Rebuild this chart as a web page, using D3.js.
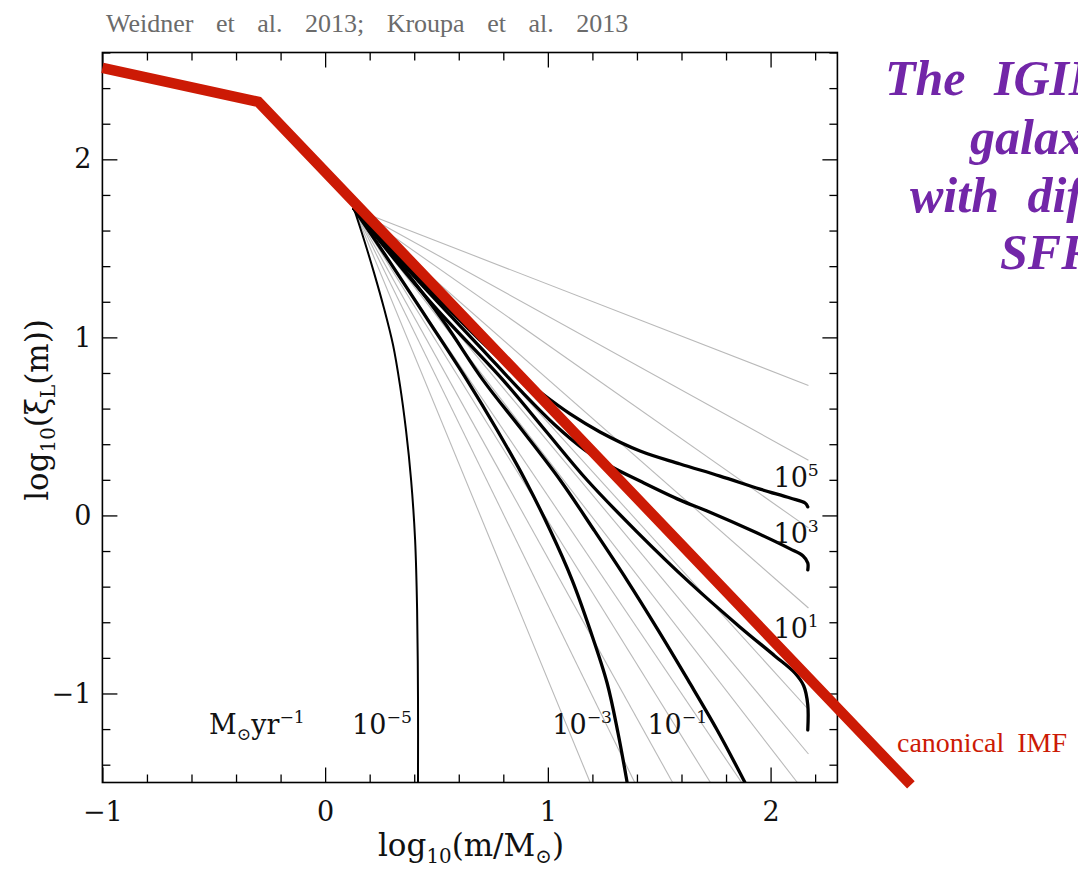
<!DOCTYPE html>
<html><head><meta charset="utf-8">
<script src="https://cdn.jsdelivr.net/npm/d3@7"></script>
<style>body{margin:0;background:#fff;overflow:hidden}svg{display:block}</style>
</head><body>
<svg id="chart" width="1078" height="872"></svg>
<script>
// ---------------- data (log10 m, log10 xi_L) ----------------
const xMajorTicks = [-1, 0, 1, 2];
const yMajorTicks = [-1, 0, 1, 2];
const canonicalIMF = [[-1, 2.514], [-0.3, 2.323], [2.63, -1.514]];
const fanOrigin = [0.13, 1.721];
const grayLineEnds = [
  [2.17, 0.73], [2.17, 0.31], [2.17, -0.07], [2.17, -0.52], [2.17, -1.09],
  [2.17, -1.34], [2.12, -1.5], [1.87, -1.5], [1.73, -1.5], [1.56, -1.5],
  [1.39, -1.5], [1.19, -1.5]
];
const igimf_1em5 = [[0.130,1.721],[0.175,1.547],[0.220,1.361],[0.264,1.165],[0.305,0.957],[0.336,0.732],[0.363,0.480],[0.386,0.199],[0.404,-0.138],[0.413,-0.531],[0.417,-1.037],[0.417,-1.5]];
const igimf_1em3 = [[0.130,1.721],[0.291,1.423],[0.462,1.097],[0.637,0.760],[0.772,0.480],[0.898,0.199],[1.010,-0.082],[1.109,-0.363],[1.190,-0.644],[1.266,-0.941],[1.315,-1.222],[1.356,-1.5]];
const igimf_1em1 = [[0.130,1.721],[0.336,1.412],[0.534,1.086],[0.709,0.760],[0.884,0.480],[1.055,0.199],[1.207,-0.082],[1.355,-0.363],[1.495,-0.644],[1.629,-0.924],[1.760,-1.205],[1.885,-1.5]];
const igimf_1e1 = [[0.130,1.721],[0.471,1.201],[0.799,0.760],[0.987,0.480],[1.176,0.199],[1.400,-0.092],[1.638,-0.379],[1.862,-0.626],[2.019,-0.789],[2.109,-0.885],[2.149,-0.958],[2.167,-1.064],[2.167,-1.205]];
const igimf_1e3 = [[0.130,1.721],[0.426,1.306],[0.695,0.947],[0.875,0.705],[1.032,0.508],[1.167,0.367],[1.288,0.272],[1.414,0.193],[1.594,0.086],[1.715,0.025],[1.940,-0.099],[2.088,-0.188],[2.146,-0.228],[2.167,-0.267],[2.167,-0.306]];
const igimf_1e5 = [[0.130,1.721],[0.426,1.323],[0.695,0.985],[0.830,0.828],[0.965,0.693],[1.100,0.570],[1.234,0.469],[1.414,0.362],[1.594,0.289],[1.773,0.221],[1.953,0.148],[2.088,0.098],[2.155,0.070],[2.167,0.048]];
const curveLabelTexts = [["10","5"],["10","3"],["10","1"],["10","−1"],["10","−3"],["10","−5"]];

// ---------------- layout ----------------
const svg = d3.select("#chart");
const x = d3.scaleLinear().domain([-1, 2.3]).range([102.4, 837.4]);
const y = d3.scaleLinear().domain([-1.5, 2.6]).range([782.5, 52.5]);
const serif = "'DejaVu Serif', serif";
const times = "'Liberation Serif', 'Times New Roman', serif";

const minorX = d3.range(-1, 2.31, 0.2).map(v => +v.toFixed(2)).filter(v => !xMajorTicks.includes(Math.round(v*100)/100));
const minorY = d3.range(-1.4, 2.61, 0.2).map(v => +v.toFixed(2)).filter(v => !yMajorTicks.includes(Math.round(v*100)/100));

svg.append("defs").append("clipPath").attr("id","frameClip").append("rect")
  .attr("x", x(-1)).attr("y", y(2.6)).attr("width", x(2.3)-x(-1)).attr("height", y(-1.5)-y(2.6));

const line = d3.line().x(d => x(d[0])).y(d => y(d[1]));
const smooth = d3.line().x(d => x(d[0])).y(d => y(d[1])).curve(d3.curveCatmullRom.alpha(0.5));

const curvesG = svg.append("g").attr("clip-path","url(#frameClip)");
curvesG.selectAll(".gray").data(grayLineEnds).join("path")
  .attr("d", d => line([fanOrigin, d]))
  .attr("fill","none").attr("stroke","#b9b9b9").attr("stroke-width",1.1);

const curves = [igimf_1em5, igimf_1em3, igimf_1em1, igimf_1e1, igimf_1e3, igimf_1e5];
curvesG.selectAll(".igimf").data(curves).join("path")
  .attr("d", d => smooth(d))
  .attr("fill","none").attr("stroke","#000")
  .attr("stroke-width",(d,i) => i === 0 ? 2 : 3.3)
  .attr("stroke-linecap","round").attr("stroke-linejoin","round");

function axisPair(gen, scale, minor, major, transform, labels, pad){
  const gMinor = svg.append("g").attr("transform", transform)
    .call(gen(scale).tickValues(minor).tickSize(-8).tickSizeOuter(0).tickFormat(""));
  const gMajor = svg.append("g").attr("transform", transform)
    .call(gen(scale).tickValues(major).tickSize(-15).tickSizeOuter(0).tickPadding(pad)
      .tickFormat(labels ? d3.format("d") : ""));
  [gMinor, gMajor].forEach(g => {
    g.select(".domain").remove();
    g.selectAll("line").attr("stroke","#000").attr("stroke-width",1.3);
    g.selectAll("text").attr("font-family", serif).attr("font-size", 27).attr("fill","#111");
  });
}
axisPair(d3.axisBottom, x, minorX, xMajorTicks, `translate(0,${y(-1.5)})`, true, 19);
axisPair(d3.axisTop, x, minorX, xMajorTicks, `translate(0,${y(2.6)})`, false, 3);
axisPair(d3.axisLeft, y, minorY, yMajorTicks, `translate(${x(-1)},0)`, true, 11);
axisPair(d3.axisRight, y, minorY, yMajorTicks, `translate(${x(2.3)},0)`, false, 3);

svg.append("rect").attr("x", x(-1)).attr("y", y(2.6))
  .attr("width", x(2.3)-x(-1)).attr("height", y(-1.5)-y(2.6))
  .attr("fill","none").attr("stroke","#000").attr("stroke-width",1.6);

svg.append("path").attr("d", line(canonicalIMF))
  .attr("fill","none").attr("stroke","#cc1a05").attr("stroke-width",10.5)
  .attr("stroke-linejoin","miter").attr("stroke-linecap","butt");

function rich(parent, parts, px, py, size, anchor){
  const t = parent.append("text").attr("x", px).attr("y", py)
    .attr("font-family", serif).attr("font-size", size)
    .attr("fill", "#111").attr("text-anchor", anchor || "start");
  let shift = 0;
  parts.forEach(([s, mode]) => {
    const target = mode === 1 ? -0.42*size : mode === -1 ? 0.22*size : 0;
    t.append("tspan").text(s).attr("dy", target - shift)
      .attr("font-size", mode ? size*0.64 : size);
    shift = target;
  });
  return t;
}

const labelAnchors = [[2.013,0.16],[2.013,-0.154],[2.013,-0.688],[1.447,-1.228],[1.02,-1.228],[0.121,-1.228]];
curveLabelTexts.forEach((p, i) => {
  rich(svg, [[p[0],0],[p[1],1]], x(labelAnchors[i][0]), y(labelAnchors[i][1]), 27);
});
rich(svg, [["M",0],["⊙",-1],["yr",0],["−1",1]], x(-0.521), y(-1.228), 27);

rich(svg, [["log",0],["10",-1],["(m/M",0],["⊙",-1],[")",0]], 471, 856, 31, "middle");
const yt = rich(svg, [["log",0],["10",-1],["(ξ",0],["L",-1],["(m))",0]], 0, 0, 31, "middle");
yt.attr("transform", "translate(48,410) rotate(-90)");

svg.append("text").attr("x",106).attr("y",32).attr("font-family",times).attr("font-size",26)
  .attr("fill","#6b6b6b").attr("word-spacing",16).text("Weidner et al. 2013; Kroupa et al. 2013");
svg.append("text").attr("x",897).attr("y",752).attr("font-family",times).attr("font-size",28)
  .attr("fill","#cc1a05").attr("word-spacing",6).text("canonical IMF");

const purple = [["The IGIMF of", 885, 95], ["galaxies", 970, 154], ["with different", 910, 212], ["SFRs", 1000, 269]];
purple.forEach(([s, px, py]) => {
  svg.append("text").attr("x",px).attr("y",py).attr("font-family",times)
    .attr("font-size",50).attr("font-weight","bold").attr("font-style","italic")
    .attr("fill","#7226a8").attr("word-spacing",16).text(s);
});
</script>
</body></html>
